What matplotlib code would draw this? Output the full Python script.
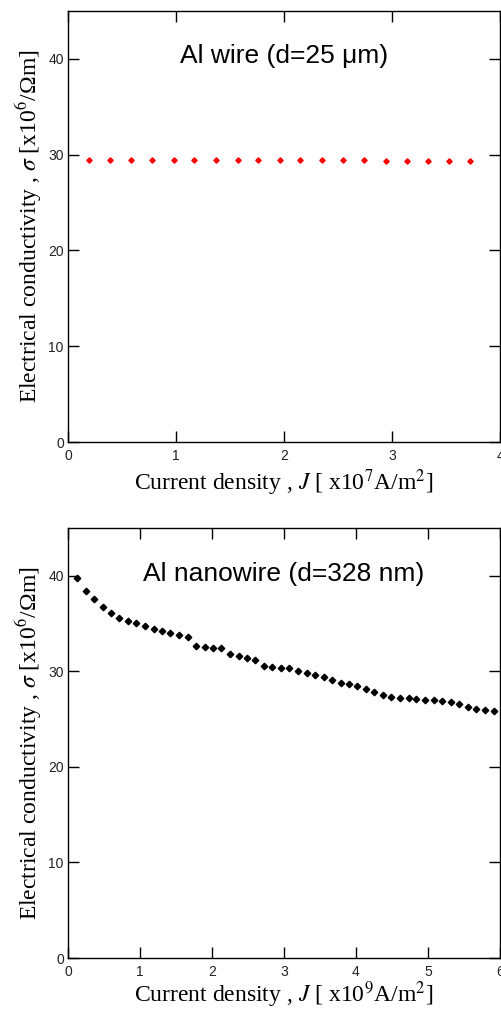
import matplotlib
matplotlib.use("Agg")
import matplotlib.pyplot as plt

# Al wire (d=25 um), J in 1e7 A/m^2, sigma in 1e6 /Ohm m
wire_J = [0.19, 0.39, 0.58, 0.78, 0.98, 1.17, 1.37, 1.57, 1.76, 1.96,
          2.15, 2.35, 2.55, 2.74, 2.94, 3.14, 3.33, 3.53, 3.72]
wire_sigma = [29.45, 29.45, 29.45, 29.45, 29.44, 29.44, 29.43, 29.43, 29.42, 29.42,
              29.41, 29.41, 29.40, 29.40, 29.39, 29.39, 29.38, 29.37, 29.36]

# Al nanowire (d=328 nm), J in 1e9 A/m^2
nano_J = [0.13, 0.25, 0.36, 0.48, 0.60, 0.71, 0.83, 0.95, 1.07, 1.19,
          1.31, 1.42, 1.54, 1.66, 1.78, 1.90, 2.01, 2.13, 2.25, 2.37,
          2.49, 2.60, 2.72, 2.84, 2.96, 3.07, 3.19, 3.32, 3.43, 3.55,
          3.67, 3.79, 3.90, 4.02, 4.14, 4.25, 4.37, 4.49, 4.61, 4.73,
          4.84, 4.96, 5.08, 5.20, 5.32, 5.43, 5.56, 5.67, 5.79, 5.91]
nano_sigma = [39.8, 38.4, 37.6, 36.75, 36.1, 35.6, 35.3, 35.1, 34.7, 34.45,
              34.2, 34.0, 33.8, 33.6, 32.7, 32.5, 32.45, 32.4, 31.85, 31.6,
              31.4, 31.2, 30.6, 30.5, 30.4, 30.3, 30.0, 29.8, 29.6, 29.4,
              29.1, 28.8, 28.7, 28.45, 28.2, 27.8, 27.5, 27.3, 27.25, 27.2,
              27.1, 27.0, 27.0, 26.9, 26.75, 26.6, 26.25, 26.05, 26.0, 25.9]

plt.rcParams['mathtext.fontset'] = 'stix'

ylabel = 'Electrical conductivity , $\\sigma$ [x10$^{6}$/\u03A9m]'
serif = 'Liberation Serif'
sans = 'Liberation Sans'

fig = plt.figure(figsize=(5.01, 10.1), dpi=100)
ax1 = fig.add_axes([68/501, 1 - 442/1010, 432/501, 431/1010])
ax2 = fig.add_axes([68/501, 1 - 958/1010, 432/501, 430/1010])

ax1.plot(wire_J, wire_sigma, linestyle='none', marker='D', ms=2.7, color='red', mec='red')
ax2.plot(nano_J, nano_sigma, linestyle='none', marker='D', ms=3.3, color='black', mec='black')

for ax, xmax in [(ax1, 4), (ax2, 6)]:
    ax.set_xlim(0, xmax)
    ax.set_ylim(0, 45)
    ax.set_xticks(range(0, xmax + 1))
    ax.set_yticks([0, 10, 20, 30, 40])
    ax.tick_params(direction='in', top=True, right=True, length=8, width=1,
                   labelsize=10, labelcolor='#222222')
    ax.tick_params(axis='x', pad=5)
    ax.tick_params(axis='y', pad=3)
    for lbl in ax.get_xticklabels() + ax.get_yticklabels():
        lbl.set_family(sans)
    for s in ax.spines.values():
        s.set_linewidth(1.0)
    ax.set_ylabel(ylabel, family=serif, fontsize=17, labelpad=3)

ax1.set_xlabel('Current density , $\\mathit{J}$ [ x10$^{7}$A/m$^{2}$]', family=serif, fontsize=17, labelpad=3)
ax2.set_xlabel('Current density , $\\mathit{J}$ [ x10$^{9}$A/m$^{2}$]', family=serif, fontsize=17, labelpad=0)

ax1.text(2.0, 40.3, 'Al wire (d=25 \u03bcm)', family=sans, fontsize=19,
         ha='center', va='center')
ax2.text(3.0, 40.2, 'Al nanowire (d=328 nm)', family=sans, fontsize=19,
         ha='center', va='center')

fig.savefig('out.png', dpi=100)
